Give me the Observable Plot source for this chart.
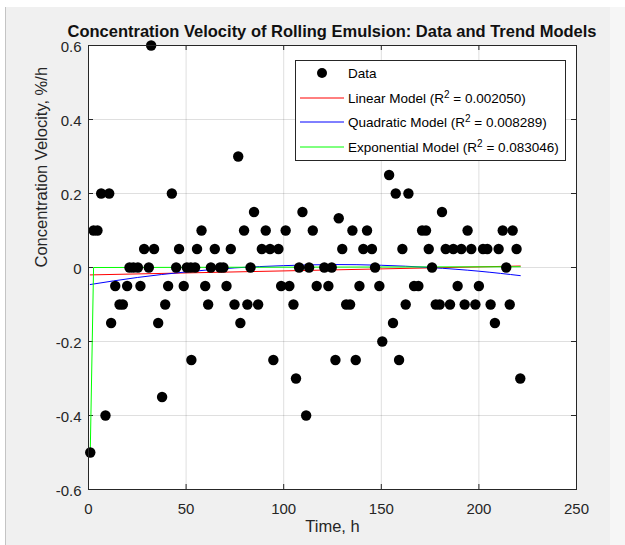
<!DOCTYPE html>
<html>
<head>
<meta charset="utf-8">
<script src="https://cdn.jsdelivr.net/npm/d3@7"></script>
<script src="https://cdn.jsdelivr.net/npm/@observablehq/plot@0.6"></script>
<style>
  body { margin: 0; background: #fff; width: 625px; height: 545px; overflow: hidden; font-family: "Liberation Sans", Arial, sans-serif; }
  #bg { position: absolute; left: 5px; top: 7px; width: 620px; height: 538px; background: #f0f0f0; border-left: 1px solid #c4c4c4; box-sizing: border-box; }
  #bgr { position: absolute; left: 610px; top: 7px; width: 15px; height: 538px; background: #f6f6f6; }
  #title { position: absolute; left: 0; top: 24px; width: 664px; text-align: center; font-weight: bold; font-size: 16.5px; line-height: 14px; height: 14px; color: #111; white-space: nowrap; }
  #chart { position: absolute; left: 0; top: 40px; }
  #legend { position: absolute; left: 295px; top: 60px; width: 271px; height: 101px; box-sizing: border-box; border: 1px solid #262626; background: #fff; font-size: 13.5px; color: #000; }
  .row { position: absolute; left: 0; height: 20px; display: flex; align-items: center; white-space: nowrap; }
  .row svg { margin-left: 4px; margin-right: 4px; }
  sup { font-size: 10px; line-height: 0; vertical-align: 5px; }
</style>
</head>
<body>
<div id="bg"></div>
<div id="bgr"></div>
<div id="title">Concentration Velocity of Rolling Emulsion: Data and Trend Models</div>
<div id="chart"></div>
<div id="legend"></div>
<script>
// ---- Data ----
const timeH = [0.9, 2.6, 4.6, 6.5, 8.7, 10.6, 11.6, 13.7, 15.9, 17.6, 19.8, 21, 23, 25.3, 26.6, 28.5, 30.9, 32.1, 33.6, 35.7,
  37.7, 39.3, 40.8, 42.7, 44.9, 46.4, 48.8, 50.4, 52.4, 52.7, 54.6, 55.6, 57.9, 59.8, 61.3, 62.7, 64.7, 67.4, 69.1, 70.7,
  72.9, 74.8, 76.7, 77.8, 79.7, 81.4, 83, 84.8, 86.9, 88.8, 90.8, 93, 94.7, 97.3, 98.7, 101, 102.9, 105, 106.3, 107.9,
  109.6, 111.5, 113, 114.9, 116.9, 120.8, 122.9, 124.6, 126.5, 128.2, 130, 132, 134, 135.2, 136.9, 138.8, 140.8, 142.7, 145.2, 146.8,
  149, 150.5, 154, 156, 157.4, 159.1, 160.8, 162.5, 163.9, 166.8, 169, 170.9, 172.9, 174.3, 176, 177.9, 179.9, 181.1, 183, 185.2,
  186.9, 189.1, 191, 192.7, 194.2, 196.1, 198.2, 200, 202.1, 204.3, 206, 208.2, 210.1, 212.2, 214, 215.8, 217.3, 219.3, 221.2];
const velocity = [-0.5, 0.1, 0.1, 0.2, -0.4, 0.2, -0.15, -0.05, -0.1, -0.1, -0.05, 0, 0, 0, -0.05, 0.05, 0, 0.6, 0.05, -0.15,
  -0.35, -0.1, -0.05, 0.2, 0, 0.05, -0.05, 0, 0, -0.25, 0, 0.05, 0.1, -0.05, -0.1, 0, 0.05, 0, 0, -0.05,
  0.05, -0.1, 0.3, -0.15, 0.1, -0.1, 0, 0.15, -0.1, 0.05, 0.1, 0.05, -0.25, 0.05, -0.05, 0.1, -0.05, -0.1, -0.3, 0,
  0.15, -0.4, 0, 0.1, -0.05, 0, -0.05, 0, -0.25, 0.133, 0.05, -0.1, -0.1, 0.1, -0.25, -0.05, 0.05, 0.1, 0.05, 0,
  -0.05, -0.2, 0.25, -0.15, 0.2, -0.25, 0.05, -0.1, 0.2, -0.05, -0.05, 0.1, 0.1, 0.05, 0, -0.1, -0.1, 0.15, 0.05, -0.1,
  0.05, -0.05, 0.05, -0.1, 0.1, 0.05, -0.1, -0.05, 0.05, 0.05, -0.1, -0.15, 0.05, 0.1, 0, -0.1, 0.1, 0.05, -0.3];

const linearX = [0.9, 221.2];
const linearY = [-0.020, 0.004];
const quadX = [0.9, 25, 50, 75, 100, 125, 150, 175, 200, 221.2];
const quadY = [-0.046, -0.027, -0.012, -0.001, 0.005, 0.008, 0.006, 0.000, -0.010, -0.022];
const expX = [0.9, 2.6, 221.2];
const expY = [-0.5, 0.0, 0.002];

const xTicks = [0, 50, 100, 150, 200, 250];
const yTicks = [-0.6, -0.4, -0.2, 0, 0.2, 0.4, 0.6];

const seriesNames = ["Data", "Linear Model", "Quadratic Model", "Exponential Model"];
const rSquared = [null, "0.002050", "0.008289", "0.083046"];
const seriesColors = ["#000000", "#ff0000", "#0000ff", "#00ff00"];

// ---- Tables built from the arrays ----
const points = timeH.map((t, i) => ({t, v: velocity[i]}));
const toRows = (xs, ys) => xs.map((x, i) => ({x, y: ys[i]}));
const linRows = toRows(linearX, linearY);
const quadRows = toRows(quadX, quadY);
const expRows = toRows(expX, expY);

const axisColor = "#262626";
const frameH = 505 - 5 - 56;
const frameW = 625 - 88 - 49;
const tickLen = 5;

const chart = Plot.plot({
  width: 625,
  height: 505,
  marginLeft: 88,
  marginRight: 49,
  marginTop: 5,
  marginBottom: 56,
  style: {background: "transparent", fontFamily: "'Liberation Sans', Arial, sans-serif", color: axisColor, overflow: "visible"},
  x: {domain: [0, 250]},
  y: {domain: [-0.6, 0.6]},
  marks: [
    Plot.frame({fill: "white", stroke: null}),
    Plot.gridX(xTicks, {stroke: axisColor, strokeOpacity: 0.15}),
    Plot.gridY(yTicks, {stroke: axisColor, strokeOpacity: 0.15}),
    Plot.ruleX(xTicks, {x: d => d, insetTop: frameH - tickLen, stroke: axisColor}),
    Plot.ruleX(xTicks, {x: d => d, insetBottom: frameH - tickLen, stroke: axisColor}),
    Plot.ruleY(yTicks, {y: d => d, insetRight: frameW - tickLen, stroke: axisColor}),
    Plot.ruleY(yTicks, {y: d => d, insetLeft: frameW - tickLen, stroke: axisColor}),
    Plot.axisX(xTicks, {tickSize: 0, tickPadding: 14, fontSize: 15, label: null, fill: axisColor}),
    Plot.axisY(yTicks, {tickSize: 0, tickPadding: 7, fontSize: 15, label: null, fill: axisColor, dy: 2, tickFormat: d => String(d)}),
    Plot.line(linRows, {x: "x", y: "y", stroke: seriesColors[1], strokeWidth: 1}),
    Plot.line(quadRows, {x: "x", y: "y", stroke: seriesColors[2], strokeWidth: 1, curve: "natural"}),
    Plot.line(expRows, {x: "x", y: "y", stroke: seriesColors[3], strokeWidth: 1}),
    Plot.dot(points, {x: "t", y: "v", r: 5.2, fill: seriesColors[0], stroke: null}),
    Plot.frame({stroke: axisColor, strokeWidth: 1}),
    Plot.text(["Time, h"], {frameAnchor: "bottom", dy: 42, fontSize: 16.5, fill: axisColor}),
    Plot.text(["Concentration Velocity, %/h"], {frameAnchor: "left", dx: -47, rotate: -90, fontSize: 16.5, fill: axisColor})
  ]
});
document.getElementById("chart").appendChild(chart);

// ---- Legend ----
const legend = document.getElementById("legend");
const rowTops = [2, 27, 51, 76];
seriesNames.forEach((name, i) => {
  const row = document.createElement("div");
  row.className = "row";
  row.style.top = rowTops[i] + "px";
  const sw = i === 0
    ? `<svg width="44" height="12"><circle cx="22" cy="6" r="5" fill="${seriesColors[i]}"/></svg>`
    : `<svg width="44" height="12"><line x1="0" x2="44" y1="6" y2="6" stroke="${seriesColors[i]}" stroke-width="1"/></svg>`;
  const label = rSquared[i] ? `${name} (R<sup>2</sup> = ${rSquared[i]})` : name;
  row.innerHTML = sw + `<span>${label}</span>`;
  legend.appendChild(row);
});
</script>
</body>
</html>
